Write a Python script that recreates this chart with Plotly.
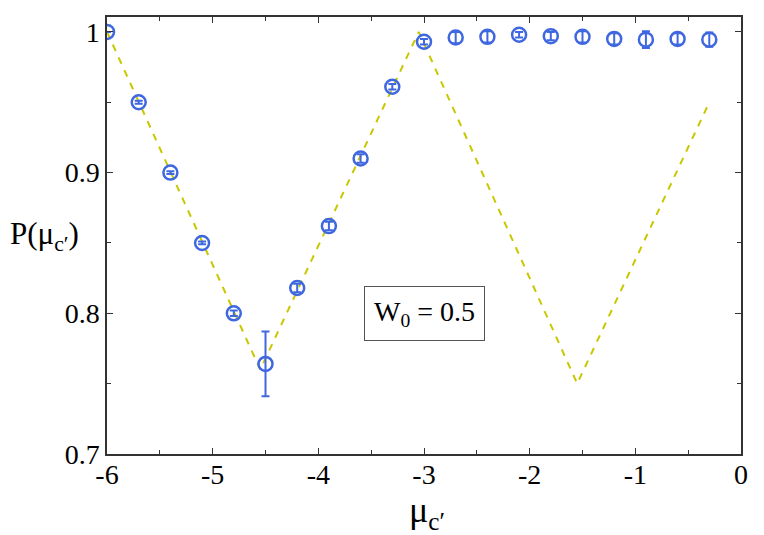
import plotly.graph_objects as go

# ── data ────────────────────────────────────────────────────────────────────
mu = [-6.0, -5.7, -5.4, -5.1, -4.8, -4.5, -4.2, -3.9, -3.6, -3.3,
      -3.0, -2.7, -2.4, -2.1, -1.8, -1.5, -1.2, -0.9, -0.6, -0.3]
prob = [1.000, 0.950, 0.900, 0.850, 0.800, 0.764, 0.818, 0.862, 0.910, 0.961,
        0.993, 0.996, 0.9965, 0.998, 0.997, 0.9965, 0.995, 0.9945, 0.995, 0.9945]
prob_err = [0.0, 0.001, 0.001, 0.001, 0.002, 0.023, 0.003, 0.003, 0.003, 0.002,
            0.002, 0.004, 0.004, 0.002, 0.003, 0.004, 0.004, 0.006, 0.004, 0.005]

# dashed reference zigzag
ref_x = [-6.0, -4.55, -3.05, -1.55, -0.3]
ref_y = [1.0, 0.76, 1.0, 0.75, 0.95]

C_BLUE = '#3f68e0'
C_YELLOW = '#c9c700'
C_AXIS = '#333333'
FONT = 'Liberation Serif, Times New Roman, serif'

fig = go.Figure()
fig.add_trace(go.Scatter(
    x=ref_x, y=ref_y, mode='lines',
    line=dict(color=C_YELLOW, width=2, dash='7px,7px'),
    showlegend=False,
))
fig.add_trace(go.Scatter(
    x=mu, y=prob, mode='markers',
    marker=dict(symbol='circle-open', size=14, color=C_BLUE, line=dict(width=2.5, color=C_BLUE)),
    error_y=dict(type='data', array=prob_err, visible=True, color=C_BLUE, thickness=2, width=4),
    showlegend=False,
))

axis_common = dict(
    showline=True, linecolor=C_AXIS, linewidth=1.5, mirror='allticks',
    ticks='inside', ticklen=6, tickwidth=1, tickcolor=C_AXIS,
    showgrid=False, zeroline=False,
    tickfont=dict(family=FONT, size=28, color='black'),
)

# page body has an 8px margin, so the plot area is shifted back by that much
fig.update_layout(
    width=764, height=535,
    margin=dict(l=99, r=31, t=7, b=89),
    plot_bgcolor='white', paper_bgcolor='white',
    font=dict(family=FONT, color='black'),
    xaxis=dict(
        **axis_common, range=[-6, 0],
        tickvals=[-6, -5, -4, -3, -2, -1, 0],
        ticktext=['-6', '-5', '-4', '-3', '-2', '-1', '0'],
        ticklabelstandoff=-5,
        minor=dict(ticks='inside', dtick=0.5, tick0=0, ticklen=4, tickcolor=C_AXIS, showgrid=False),
    ),
    yaxis=dict(
        **axis_common, range=[0.7, 1.0106],
        tickvals=[0.7, 0.8, 0.9, 1.0],
        ticktext=['0.7', '0.8', '0.9', '1'],
        minor=dict(ticks='inside', dtick=0.05, tick0=0.7, ticklen=4, tickcolor=C_AXIS, showgrid=False),
    ),
    annotations=[
        dict(text='P(μ<sub>c′</sub>)', xref='paper', yref='y', x=-0.156, y=0.855,
             xanchor='left', yanchor='middle', showarrow=False,
             font=dict(family=FONT, size=31)),
        dict(text='μ<sub>c′</sub>', xref='paper', yref='paper', x=0.505, y=-0.135,
             xanchor='center', yanchor='middle', showarrow=False,
             font=dict(family=FONT, size=36)),
        dict(text='W<sub>0</sub> = 0.5', xref='x', yref='y', x=-3.0, y=0.80,
             showarrow=False, font=dict(family=FONT, size=28),
             bordercolor='#555555', borderwidth=1, borderpad=9, bgcolor='white'),
    ],
)

fig.write_html('out.html')
